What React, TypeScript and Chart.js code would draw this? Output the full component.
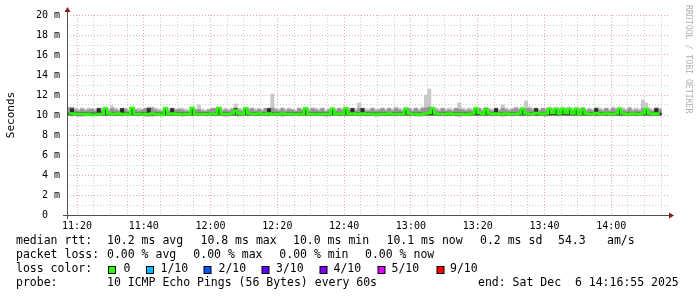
import React, { useEffect, useRef } from 'react';
import { Chart, registerables } from 'chart.js';

Chart.register(...registerables);

// ---------- data ----------
const START_MINUTE = 11 * 60 + 17; // left edge of the 3h window
const WINDOW_MINUTES = 180;
const X_TICK_LABELS = ['11:20', '11:40', '12:00', '12:20', '12:40', '13:00', '13:20', '13:40', '14:00'];
const Y_MAX = 20; // ms

// median rtt per minute (ms)
const median = [
  10.15, 10.15, 10.1, 10.1, 10.1, 10.05, 10.1, 10.0, 10.05, 10.1,
  10.1, 10.65, 10.15, 10.1, 10.1, 10.15, 10.1, 10.1, 10.05, 10.7,
  10.1, 10.1, 10.05, 10.1, 10.1, 10.15, 10.1, 10.1, 10.0, 10.65,
  10.1, 10.15, 10.1, 10.1, 10.05, 10.1, 10.1, 10.7, 10.1, 10.1,
  10.05, 10.1, 10.1, 10.15, 10.1, 10.7, 10.1, 10.1, 10.1, 10.15,
  10.45, 10.15, 10.1, 10.65, 10.15, 10.1, 10.1, 10.15, 10.1, 10.1,
  10.15, 10.05, 10.1, 10.1, 10.15, 10.1, 10.1, 10.1, 10.05, 10.1,
  10.1, 10.65, 10.1, 10.1, 10.05, 10.1, 10.1, 10.1, 10.1, 10.6,
  10.1, 10.15, 10.1, 10.65, 10.1, 10.15, 10.1, 10.1, 10.15, 10.1,
  10.1, 10.1, 10.05, 10.1, 10.1, 10.1, 10.15, 10.1, 10.1, 10.1,
  10.1, 10.6, 10.15, 10.1, 10.1, 10.05, 10.1, 10.15, 10.2, 10.65,
  10.15, 10.1, 10.1, 10.1, 10.15, 10.1, 10.1, 10.1, 10.1, 10.05,
  10.1, 10.15, 10.65, 10.2, 10.1, 10.55, 10.15, 10.1, 10.15, 10.1,
  10.1, 10.15, 10.1, 10.1, 10.1, 10.15, 10.6, 10.15, 10.1, 10.1,
  10.2, 10.15, 10.1, 10.15, 10.6, 10.2, 10.6, 10.15, 10.6, 10.2,
  10.6, 10.15, 10.6, 10.1, 10.55, 10.15, 10.1, 10.1, 10.2, 10.1,
  10.1, 10.15, 10.1, 10.1, 10.15, 10.6, 10.15, 10.1, 10.1, 10.15,
  10.1, 10.1, 10.15, 10.6, 10.15, 10.1, 10.15, 10.1,
];

// fastest ping per minute (ms)
const pingMin = [
  9.95, 9.9, 9.95, 9.85, 9.85, 9.9, 9.95, 9.95, 9.9, 9.95,
  9.95, 9.9, 9.95, 9.95, 9.9, 9.95, 9.9, 9.95, 9.9, 9.95,
  9.95, 9.9, 9.95, 9.85, 9.85, 9.85, 9.9, 9.95, 9.9, 9.95,
  9.9, 9.95, 9.95, 9.9, 9.85, 9.9, 9.95, 9.9, 9.95, 9.9,
  9.95, 9.9, 9.95, 9.95, 9.9, 9.95, 9.9, 9.85, 9.9, 9.95,
  9.9, 9.85, 9.9, 9.95, 9.9, 9.95, 9.9, 9.95, 9.95, 9.9,
  9.9, 9.95, 9.9, 9.95, 9.85, 9.9, 9.95, 9.9, 9.95, 9.9,
  9.95, 9.9, 9.9, 9.95, 9.9, 9.95, 9.9, 9.85, 9.9, 9.95,
  9.95, 9.9, 9.95, 9.9, 9.9, 9.95, 9.95, 9.9, 9.95, 9.9,
  9.9, 9.95, 9.85, 9.9, 9.95, 9.9, 9.95, 9.9, 9.9, 9.95,
  9.9, 9.95, 9.9, 9.95, 9.9, 9.85, 9.9, 9.95, 9.9, 9.95,
  9.95, 9.9, 9.95, 9.9, 9.9, 9.95, 9.9, 9.85, 9.9, 9.95,
  9.9, 9.95, 9.9, 9.95, 9.9, 9.9, 9.95, 9.9, 9.95, 9.9,
  9.85, 9.9, 9.95, 9.9, 9.95, 9.9, 9.9, 9.95, 9.9, 9.95,
  9.9, 9.95, 9.9, 9.85, 9.9, 9.95, 9.9, 9.9, 9.95, 9.9,
  9.95, 9.9, 9.95, 9.9, 9.9, 9.95, 9.9, 9.95, 9.9, 9.9,
  9.95, 9.9, 9.95, 9.9, 9.95, 9.9, 9.9, 9.95, 9.9, 9.95,
  9.9, 9.95, 9.9, 9.95, 9.9, 9.9, 9.95, 9.9,
];

// slowest ping per minute (ms)
const pingMax = [
  10.8, 10.8, 10.7, 10.6, 10.7, 10.6, 10.7, 10.6, 10.6, 10.7,
  10.7, 10.8, 10.6, 10.9, 10.7, 10.6, 10.7, 10.7, 10.5, 10.8,
  10.6, 10.7, 10.6, 10.7, 10.8, 10.8, 10.7, 10.6, 10.5, 10.8,
  10.6, 10.7, 10.6, 10.7, 10.7, 10.6, 10.5, 10.7, 10.6, 11.0,
  10.6, 10.5, 10.6, 10.7, 10.7, 10.8, 10.6, 10.7, 10.6, 10.7,
  11.1, 10.7, 10.6, 10.8, 10.7, 10.7, 10.6, 10.7, 10.6, 10.7,
  10.7, 12.1, 10.7, 10.6, 10.7, 10.6, 10.7, 10.6, 10.5, 10.7,
  10.6, 10.8, 10.6, 10.7, 10.7, 10.6, 10.7, 10.5, 10.6, 10.8,
  10.6, 10.7, 10.6, 10.8, 10.7, 10.7, 10.6, 11.2, 10.7, 10.6,
  10.6, 10.7, 10.6, 10.6, 10.7, 10.6, 10.7, 10.6, 10.8, 10.7,
  10.6, 10.8, 10.7, 10.6, 10.7, 10.6, 10.8, 12.0, 12.6, 10.8,
  10.7, 10.6, 10.7, 10.6, 10.7, 10.6, 10.7, 11.2, 10.7, 10.6,
  10.7, 10.6, 10.8, 10.7, 10.6, 10.8, 10.7, 10.6, 10.7, 10.6,
  11.0, 10.7, 10.6, 10.7, 10.8, 10.7, 10.8, 11.4, 10.8, 10.7,
  10.7, 10.6, 10.7, 10.7, 10.8, 10.7, 10.8, 10.7, 10.8, 10.7,
  10.8, 10.6, 10.8, 10.7, 10.8, 10.6, 10.7, 10.6, 10.8, 10.7,
  10.6, 10.7, 10.6, 10.8, 10.7, 10.8, 10.7, 10.6, 10.8, 10.6,
  10.7, 10.6, 11.5, 11.2, 10.7, 10.6, 10.8, 10.7,
];

// upper edge of the middle smoke band (ms)
const pingUpper = [
  10.7, 10.7, 10.5, 10.4, 10.6, 10.4, 10.5, 10.6, 10.4, 10.65,
  10.5, 10.65, 10.4, 10.65, 10.5, 10.4, 10.65, 10.55, 10.35, 10.65,
  10.5, 10.4, 10.5, 10.65, 10.7, 10.7, 10.5, 10.4, 10.35, 10.65,
  10.4, 10.65, 10.5, 10.55, 10.5, 10.4, 10.35, 10.65, 10.5, 10.55,
  10.4, 10.35, 10.5, 10.65, 10.65, 10.65, 10.4, 10.5, 10.4, 10.55,
  10.65, 10.5, 10.4, 10.65, 10.5, 10.65, 10.4, 10.55, 10.4, 10.65,
  10.65, 10.7, 10.5, 10.4, 10.65, 10.4, 10.55, 10.5, 10.35, 10.65,
  10.5, 10.65, 10.4, 10.65, 10.5, 10.4, 10.65, 10.35, 10.5, 10.65,
  10.4, 10.65, 10.5, 10.65, 10.5, 10.65, 10.4, 10.65, 10.65, 10.4,
  10.4, 10.65, 10.4, 10.5, 10.65, 10.4, 10.65, 10.4, 10.65, 10.5,
  10.4, 10.65, 10.65, 10.4, 10.65, 10.4, 10.65, 10.7, 10.8, 10.65,
  10.5, 10.4, 10.65, 10.4, 10.5, 10.4, 10.65, 10.55, 10.5, 10.4,
  10.5, 10.4, 10.65, 10.65, 10.4, 10.65, 10.5, 10.4, 10.65, 10.4,
  10.65, 10.5, 10.4, 10.55, 10.65, 10.5, 10.65, 10.65, 10.65, 10.5,
  10.65, 10.4, 10.65, 10.5, 10.65, 10.5, 10.65, 10.55, 10.65, 10.5,
  10.65, 10.4, 10.65, 10.5, 10.65, 10.4, 10.55, 10.4, 10.65, 10.5,
  10.4, 10.65, 10.4, 10.65, 10.5, 10.65, 10.5, 10.4, 10.65, 10.4,
  10.5, 10.4, 10.65, 10.65, 10.5, 10.4, 10.65, 10.55,
];

// upper edge of the innermost (darkest) smoke band (ms)
const pingInner = [
  10.2, 10.65, 10.2, 10.2, 10.2, 10.2, 10.2, 10.2, 10.2, 10.65,
  10.2, 10.65, 10.2, 10.2, 10.2, 10.2, 10.65, 10.2, 10.2, 10.65,
  10.2, 10.2, 10.2, 10.2, 10.65, 10.2, 10.2, 10.2, 10.2, 10.65,
  10.2, 10.65, 10.2, 10.2, 10.2, 10.2, 10.2, 10.65, 10.2, 10.2,
  10.2, 10.2, 10.2, 10.2, 10.2, 10.65, 10.2, 10.2, 10.2, 10.2,
  10.65, 10.2, 10.2, 10.65, 10.2, 10.2, 10.2, 10.2, 10.2, 10.2,
  10.65, 10.2, 10.2, 10.2, 10.2, 10.2, 10.2, 10.2, 10.2, 10.2,
  10.2, 10.65, 10.2, 10.2, 10.2, 10.2, 10.2, 10.2, 10.2, 10.65,
  10.2, 10.2, 10.2, 10.65, 10.2, 10.65, 10.2, 10.2, 10.65, 10.2,
  10.2, 10.2, 10.2, 10.2, 10.2, 10.2, 10.2, 10.2, 10.2, 10.2,
  10.2, 10.65, 10.2, 10.2, 10.2, 10.2, 10.2, 10.2, 10.2, 10.65,
  10.2, 10.2, 10.2, 10.2, 10.2, 10.2, 10.2, 10.2, 10.2, 10.2,
  10.2, 10.2, 10.65, 10.2, 10.2, 10.65, 10.2, 10.2, 10.65, 10.2,
  10.2, 10.2, 10.2, 10.2, 10.2, 10.2, 10.65, 10.2, 10.2, 10.2,
  10.65, 10.2, 10.2, 10.2, 10.65, 10.2, 10.65, 10.2, 10.65, 10.2,
  10.65, 10.2, 10.65, 10.2, 10.65, 10.2, 10.2, 10.2, 10.65, 10.2,
  10.2, 10.2, 10.2, 10.2, 10.2, 10.65, 10.2, 10.2, 10.2, 10.2,
  10.2, 10.2, 10.2, 10.65, 10.2, 10.2, 10.65, 10.2,
];
const INNER_FLOOR = 10.0;

// legend texts
const RTT_STATS = ['10.2 ms avg', '10.8 ms max', '10.0 ms min', '10.1 ms now', '0.2 ms sd', '54.3', 'am/s'];
const LOSS_STATS = ['0.00 % avg', '0.00 % max', '0.00 % min', '0.00 % now'];
const LOSS_LABELS = ['0', '1/10', '2/10', '3/10', '4/10', '5/10', '9/10'];
const LOSS_COLORS = ['#26ff00', '#00b8ff', '#0059ff', '#5e00ff', '#7e00ff', '#dd00ff', '#ff0000'];
const PROBE_TEXT = '10 ICMP Echo Pings (56 Bytes) every 60s';
const END_TEXT = 'end: Sat Dec  6 14:16:55 2025';
const Y_TITLE = 'Seconds';
const WATERMARK = 'RRDTOOL / TOBI OETIKER';

// ---------- layout / style ----------
const MONO = '"DejaVu Sans Mono", "Liberation Mono", monospace';
const RED_GRID = 'rgba(225,130,130,0.7)';
const GRAY_GRID = 'rgba(185,185,185,0.7)';
const RTT_X = [107, 200.5, 293, 386.5, 480, 558, 607];
const LOSS_X = [107, 193.3, 279.3, 365];
const SWATCH_X = [108, 146, 203.5, 261.5, 319.5, 377.5, 436.5];
const LOSS_LABEL_X = [123.5, 160.5, 218.5, 276, 333.5, 391.5, 450];
const ROW_Y = [241.5, 255.5, 269.5, 283];

const toMinute = (s: string) => {
  const [h, m] = s.split(':').map(Number);
  return h * 60 + m - START_MINUTE;
};

const decorPlugin = {
  id: 'decor',
  afterDraw(chart: any) {
    const ctx = chart.ctx as CanvasRenderingContext2D;
    const a = chart.chartArea;
    ctx.save();
    // axes
    ctx.strokeStyle = '#505050';
    ctx.lineWidth = 1;
    ctx.beginPath();
    ctx.moveTo(a.left - 4, a.bottom + 0.5);
    ctx.lineTo(a.right + 3, a.bottom + 0.5);
    ctx.moveTo(a.left + 0.5, a.bottom + 4);
    ctx.lineTo(a.left + 0.5, a.top - 6);
    ctx.stroke();
    // arrows
    ctx.fillStyle = '#8b1a1a';
    ctx.beginPath();
    ctx.moveTo(a.right + 1, a.bottom + 0.5 - 3);
    ctx.lineTo(a.right + 6, a.bottom + 0.5);
    ctx.lineTo(a.right + 1, a.bottom + 0.5 + 3);
    ctx.closePath();
    ctx.fill();
    ctx.beginPath();
    ctx.moveTo(a.left + 0.5 - 3, a.top - 3);
    ctx.lineTo(a.left + 0.5, a.top - 8);
    ctx.lineTo(a.left + 0.5 + 3, a.top - 3);
    ctx.closePath();
    ctx.fill();

    // y title
    ctx.fillStyle = '#000';
    ctx.font = `11px ${MONO}`;
    ctx.textAlign = 'center';
    ctx.textBaseline = 'middle';
    ctx.save();
    ctx.translate(11, (a.top + a.bottom) / 2);
    ctx.rotate(-Math.PI / 2);
    ctx.fillText(Y_TITLE, 0, 0);
    ctx.restore();

    // watermark
    ctx.save();
    ctx.fillStyle = '#b0b0b0';
    ctx.font = `8.2px ${MONO}`;
    ctx.textAlign = 'left';
    ctx.translate(688, 5);
    ctx.rotate(Math.PI / 2);
    ctx.fillText(WATERMARK, 0, 0);
    ctx.restore();

    // legend
    ctx.font = `11.5px ${MONO}`;
    ctx.textAlign = 'left';
    ctx.textBaseline = 'middle';
    ctx.fillStyle = '#000';
    ctx.fillText('median rtt:', 16, ROW_Y[0]);
    RTT_STATS.forEach((t, i) => ctx.fillText(t, RTT_X[i], ROW_Y[0]));
    ctx.fillText('packet loss:', 16, ROW_Y[1]);
    LOSS_STATS.forEach((t, i) => ctx.fillText(t, LOSS_X[i], ROW_Y[1]));
    ctx.fillText('loss color:', 16, ROW_Y[2]);
    LOSS_LABELS.forEach((t, i) => {
      const sx = SWATCH_X[i];
      const sy = Math.round(ROW_Y[2] - 4);
      ctx.fillStyle = '#000';
      ctx.fillRect(sx, sy, 8, 8);
      ctx.fillStyle = LOSS_COLORS[i];
      ctx.fillRect(sx + 1, sy + 1, 6, 6);
      ctx.fillStyle = '#000';
      ctx.fillText(t, LOSS_LABEL_X[i], ROW_Y[2]);
    });
    ctx.fillText('probe:', 16, ROW_Y[3]);
    ctx.fillText(PROBE_TEXT, 107, ROW_Y[3]);
    ctx.fillText(END_TEXT, 478, ROW_Y[3]);
    ctx.restore();
  },
};

export default function App() {
  const ref = useRef<HTMLCanvasElement>(null);

  useEffect(() => {
    document.body.style.margin = '0';
    const canvas = ref.current;
    if (!canvas) return;

    const xs = median.map((_, i) => i + 0.5);
    const majorX = X_TICK_LABELS.map(toMinute);
    const minorX: number[] = [];
    for (let v = majorX[0] % 5; v <= WINDOW_MINUTES; v += 5) minorX.push(v);
    const yTicks: number[] = [];
    for (let v = 0; v <= Y_MAX; v += 1) yTicks.push(v);

    const barCommon = {
      type: 'bar' as const,
      borderWidth: 0,
      barPercentage: 1,
      categoryPercentage: 1,
      grouped: false,
    };

    const chart = new Chart(canvas, {
      type: 'bar',
      data: {
        datasets: [
          {
            type: 'line',
            label: 'median',
            data: xs.map((x, i) => ({ x, y: median[i] })),
            borderColor: '#26ff00',
            borderWidth: 2.5,
            pointRadius: 0,
            stepped: 'middle',
            fill: false,
            order: 0,
          } as any,
          {
            ...barCommon,
            label: 'inner',
            data: xs.map((x, i) => ({ x, y: [INNER_FLOOR, pingInner[i]] })),
            backgroundColor: '#2e2e2e',
            order: 1,
          } as any,
          {
            ...barCommon,
            label: 'upper',
            data: xs.map((x, i) => ({ x, y: [INNER_FLOOR, pingUpper[i]] })),
            backgroundColor: '#959595',
            order: 2,
          } as any,
          {
            ...barCommon,
            label: 'outer',
            data: xs.map((x, i) => ({ x, y: [pingMin[i], pingMax[i]] })),
            backgroundColor: '#c8c8c8',
            order: 3,
          } as any,
        ],
      },
      options: {
        animation: false,
        responsive: false,
        events: [],
        layout: { padding: { left: 0, top: 15, right: 29, bottom: 0 } },
        plugins: { legend: { display: false }, tooltip: { enabled: false } },
        scales: {
          x: {
            type: 'linear',
            min: 0,
            max: WINDOW_MINUTES,
            offset: false,
            afterBuildTicks: (s: any) => {
              s.ticks = minorX.map((v) => ({ value: v }));
            },
            afterFit: (s: any) => {
              s.height = 82;
            },
            grid: {
              offset: false,
              drawTicks: false,
              lineWidth: 1,
              color: (c: any) => (majorX.includes(c.tick?.value) ? RED_GRID : GRAY_GRID),
            },
            border: { display: false, dash: [1, 2] },
            ticks: {
              autoSkip: false,
              maxRotation: 0,
              minRotation: 0,
              padding: 5,
              color: '#000',
              font: { family: MONO, size: 10 },
              callback: (v: any) => {
                const k = majorX.indexOf(Number(v));
                return k >= 0 ? X_TICK_LABELS[k] : '';
              },
            },
          },
          y: {
            type: 'linear',
            min: 0,
            max: Y_MAX,
            afterBuildTicks: (s: any) => {
              s.ticks = yTicks.map((v) => ({ value: v }));
            },
            afterFit: (s: any) => {
              s.width = 67;
            },
            grid: {
              drawTicks: false,
              lineWidth: 1,
              color: (c: any) => ((c.tick?.value ?? 1) % 2 === 0 ? RED_GRID : GRAY_GRID),
            },
            border: { display: false, dash: [1, 2] },
            ticks: {
              autoSkip: false,
              padding: 7,
              color: '#000',
              font: { family: MONO, size: 10 },
              callback: (v: any) => {
                const n = Number(v);
                if (n % 2 !== 0) return '';
                return n === 0 ? '0  ' : `${n} m`;
              },
            },
          },
        },
      },
      plugins: [decorPlugin],
    });

    return () => chart.destroy();
  }, []);

  return <canvas ref={ref} width={697} height={297} style={{ display: 'block' }} />;
}
